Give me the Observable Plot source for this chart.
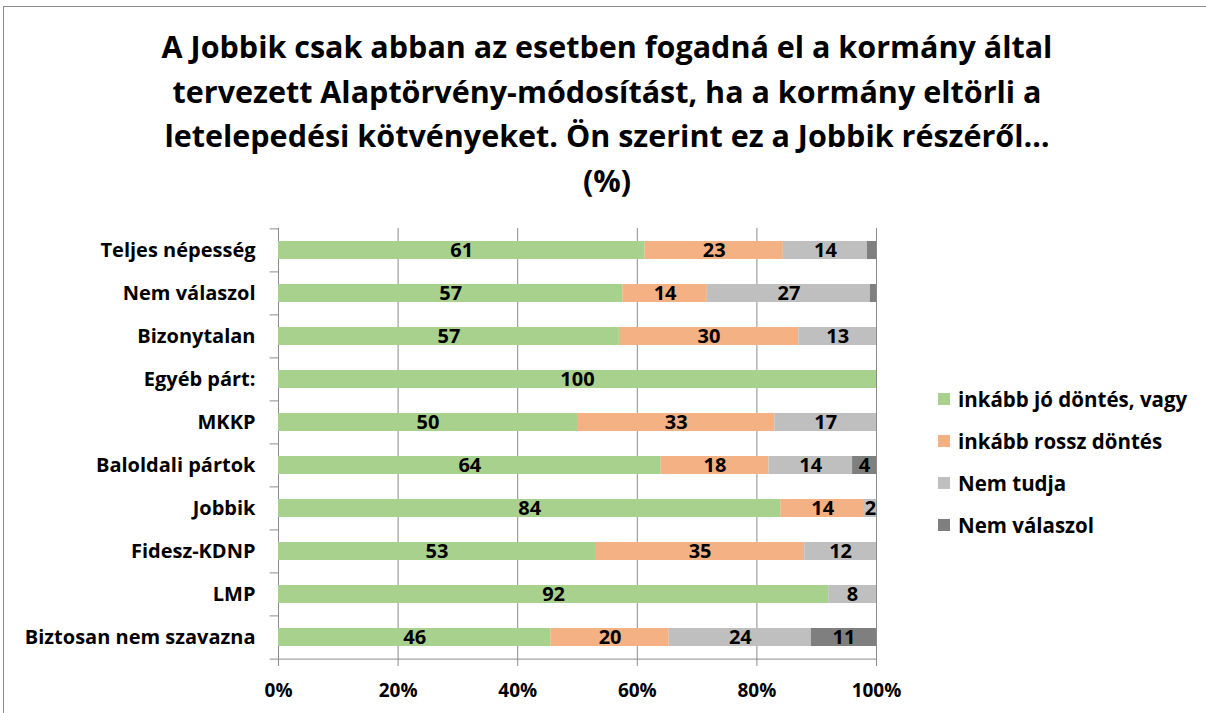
<!DOCTYPE html>
<html>
<head>
<meta charset="utf-8">
<script src="https://cdn.jsdelivr.net/npm/d3@7"></script>
<script src="https://cdn.jsdelivr.net/npm/@observablehq/plot@0.6"></script>
<style>
  html, body { margin: 0; padding: 0; background: #fff; }
  #root { position: relative; width: 1206px; height: 713px; overflow: hidden; font-family: "Open Sans", Lato, sans-serif; }
  #frame { position: absolute; left: 3px; top: 6px; width: 1300px; height: 800px; border: 1px solid #8c8c8c; box-sizing: border-box; }
  #title { position: absolute; left: 0; top: 24px; width: 1214px; text-align: center; font-weight: bold; font-size: 30.5px; line-height: 44.5px; color: #000; }
  #chart { position: absolute; left: 0; top: 222px; }
  #legend { position: absolute; left: 938px; top: 378px; font-weight: bold; font-size: 20.5px; color: #000; }
  .li { height: 42px; display: flex; align-items: center; }
  .sw { width: 12px; height: 12px; margin-right: 8px; }
</style>
</head>
<body>
<div id="root">
  <div id="frame"></div>
  <div id="title">A Jobbik csak abban az esetben fogadná el a kormány által<br>tervezett Alaptörvény-módosítást, ha a kormány eltörli a<br>letelepedési kötvényeket. Ön szerint ez a Jobbik részéről…<br>(%)</div>
  <div id="chart"></div>
  <div id="legend"></div>
</div>
<script>
const categories = ["Teljes népesség", "Nem válaszol", "Bizonytalan", "Egyéb párt:", "MKKP", "Baloldali pártok", "Jobbik", "Fidesz-KDNP", "LMP", "Biztosan nem szavazna"];
const seriesNames = ["inkább jó döntés, vagy", "inkább rossz döntés", "Nem tudja", "Nem válaszol"];
const seriesColors = ["#a9d18e", "#f4b183", "#bfbfbf", "#7f7f7f"];
const goodDecision = [61, 57, 57, 100, 50, 64, 84, 53, 92, 46];
const badDecision  = [23, 14, 30, 0, 33, 18, 14, 35, 0, 20];
const dontKnow     = [14, 27, 13, 0, 17, 14, 2, 12, 8, 24];
const noAnswer     = [1.5, 1, 0, 0, 0, 4, 0, 0, 0, 11];
const xTicks = [0, 0.2, 0.4, 0.6, 0.8, 1];

const seriesValues = [goodDecision, badDecision, dontKnow, noAnswer];
const rows = categories.flatMap((c, i) => seriesNames.map((s, j) => ({cat: c, series: s, value: seriesValues[j][i]})));

const H = 490, MT = 6, MB = 52;
const step = (H - MT - MB) / categories.length;
const axisGray = "#8c8c8c";

const chart = Plot.plot({
  width: 900,
  height: H,
  marginLeft: 278,
  marginRight: 24,
  marginTop: MT,
  marginBottom: MB,
  style: {fontFamily: "'Open Sans', Lato, sans-serif", fontSize: "20px", fontWeight: "bold", color: "#000", background: "transparent", overflow: "visible"},
  x: {domain: [0, 1], label: null},
  y: {domain: categories, paddingInner: 0.58, paddingOuter: 0.29, label: null},
  color: {domain: seriesNames, range: seriesColors},
  marks: [
    Plot.gridX(xTicks, {stroke: axisGray, strokeOpacity: 1}),
    Plot.ruleY(categories, {y: d => d, x1: -0.014, x2: 0, dy: -step / 2, stroke: axisGray}),
    Plot.ruleY(categories.slice(-1), {y: d => d, x1: -0.014, x2: 1, dy: step / 2, stroke: axisGray}),
    Plot.axisX(xTicks, {tickFormat: d3.format(".0%"), tickSize: 6, tickPadding: 17, stroke: axisGray, fill: "#000", fontSize: 19, label: null}),
    Plot.axisY({tickSize: 0, tickPadding: 23, fill: "#000", fontSize: 20, label: null}),
    Plot.barX(rows, Plot.stackX({x: "value", y: "cat", fill: "series", offset: "normalize", order: seriesNames})),
    Plot.text(rows, Plot.stackX({x: "value", y: "cat", z: "series", offset: "normalize", order: seriesNames,
      text: d => d.value >= 2 ? String(d.value) : "", fill: "#000", fontWeight: "bold", fontSize: 20}))
  ]
});
document.getElementById("chart").appendChild(chart);

const legend = document.getElementById("legend");
seriesNames.forEach((s, i) => {
  const row = document.createElement("div");
  row.className = "li";
  const sw = document.createElement("div");
  sw.className = "sw";
  sw.style.background = seriesColors[i];
  const t = document.createElement("span");
  t.textContent = s;
  row.appendChild(sw); row.appendChild(t);
  legend.appendChild(row);
});
</script>
</body>
</html>
